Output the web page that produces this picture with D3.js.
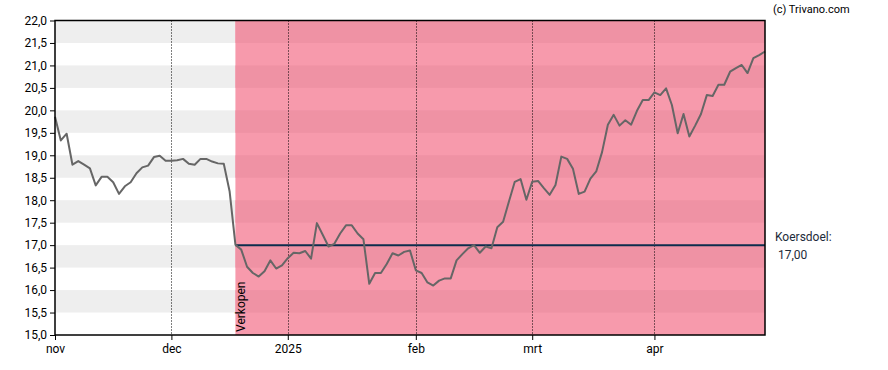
<!DOCTYPE html>
<html>
<head>
<meta charset="utf-8">
<script src="https://cdn.jsdelivr.net/npm/d3@7"></script>
<style>
  body { margin: 0; background: #fff; }
  svg { font-family: Roboto, "Noto Sans", sans-serif; }
</style>
</head>
<body>
<svg id="chart"></svg>
<script>
// Koers per handelsdag (index 0 = begin nov)
const prices = [
  19.86, 19.33, 19.48, 18.79, 18.87, 18.79, 18.71, 18.33, 18.52, 18.52,
  18.40, 18.14, 18.31, 18.40, 18.60, 18.73, 18.77, 18.96, 18.99, 18.88,
  18.88, 18.89, 18.92, 18.81, 18.79, 18.92, 18.92, 18.86, 18.82, 18.81,
  18.20, 17.01, 16.90, 16.52, 16.38, 16.30, 16.42, 16.66, 16.48, 16.55,
  16.71, 16.83, 16.82, 16.87, 16.70, 17.49, 17.23, 16.97, 17.03, 17.26,
  17.44, 17.44, 17.26, 17.13, 16.14, 16.38, 16.38, 16.58, 16.82, 16.77,
  16.85, 16.88, 16.44, 16.38, 16.17, 16.10, 16.21, 16.26, 16.26, 16.66,
  16.80, 16.93, 17.00, 16.83, 16.97, 16.93, 17.40, 17.52, 17.97, 18.41,
  18.47, 18.01, 18.41, 18.43, 18.27, 18.12, 18.34, 18.97, 18.92, 18.70,
  18.14, 18.19, 18.48, 18.64, 19.07, 19.68, 19.90, 19.66, 19.78, 19.68,
  19.99, 20.23, 20.23, 20.40, 20.34, 20.49, 20.12, 19.49, 19.92, 19.42,
  19.66, 19.92, 20.34, 20.32, 20.57, 20.57, 20.86, 20.94, 21.01, 20.83,
  21.16, 21.23, 21.31
];

// Maandlabels op handelsdag-index
const monthLabels = ["nov", "dec", "2025", "feb", "mrt", "apr"];
const monthIndex = [0, 20, 40, 62, 82, 103];

const yTicks = [15, 15.5, 16, 16.5, 17, 17.5, 18, 18.5, 19, 19.5, 20, 20.5, 21, 21.5, 22];

const adviceIndex = 31;      // "Verkopen" vanaf hier
const adviceLabel = "Verkopen";
const targetPrice = 17.00;

const width = 888, height = 370;
const margin = { top: 20.5, right: 123, bottom: 35, left: 55 };
const innerW = width - margin.left - margin.right;
const innerH = height - margin.top - margin.bottom;

const svg = d3.select("#chart").attr("width", width).attr("height", height);
const g = svg.append("g").attr("transform", `translate(${margin.left},${margin.top})`);

const x = d3.scaleLinear().domain([0, prices.length - 1]).range([0, innerW]);
const y = d3.scaleLinear().domain([15, 22]).range([innerH, 0]);

const fmt = v => d3.format(".1f")(v).replace(".", ",");

// Horizontal stripes: grey in the white area, darker pink in the advice area
const bands = d3.range(15.5, 22, 1);
const xAdvice = x(adviceIndex);

g.selectAll("rect.band")
  .data(bands)
  .enter().append("rect")
  .attr("class", "band")
  .attr("x", 0)
  .attr("y", d => y(d + 0.5))
  .attr("width", xAdvice)
  .attr("height", d => y(d) - y(d + 0.5))
  .attr("fill", "#eeeeee");

g.append("rect")
  .attr("x", xAdvice)
  .attr("y", 0)
  .attr("width", innerW - xAdvice)
  .attr("height", innerH)
  .attr("fill", "rgb(247,154,172)");

g.selectAll("rect.pband")
  .data(bands)
  .enter().append("rect")
  .attr("class", "pband")
  .attr("x", xAdvice)
  .attr("y", d => y(d + 0.5))
  .attr("width", innerW - xAdvice)
  .attr("height", d => y(d) - y(d + 0.5))
  .attr("fill", "rgb(239,146,164)");

// Dotted month gridlines
g.selectAll("line.vgrid")
  .data(monthIndex.slice(1))
  .enter().append("line")
  .attr("class", "vgrid")
  .attr("x1", d => Math.round(x(d)) + 0.5)
  .attr("x2", d => Math.round(x(d)) + 0.5)
  .attr("y1", 0)
  .attr("y2", innerH)
  .attr("stroke", "#000")
  .attr("stroke-dasharray", "1,2");

// Target line
g.append("line")
  .attr("x1", xAdvice)
  .attr("x2", innerW)
  .attr("y1", y(targetPrice))
  .attr("y2", y(targetPrice))
  .attr("stroke", "#0d2d4d")
  .attr("stroke-width", 2);

// Price line
const line = d3.line()
  .x((d, i) => x(i))
  .y(d => y(d));

g.append("path")
  .datum(prices)
  .attr("fill", "none")
  .attr("stroke", "#666")
  .attr("stroke-width", 2)
  .attr("stroke-linejoin", "round")
  .attr("d", line);

// Advice label
g.append("text")
  .attr("transform", `translate(${xAdvice + 10},${innerH - 3}) rotate(-90)`)
  .attr("font-size", 12)
  .attr("fill", "#000")
  .text(adviceLabel);

// Frame
g.append("rect")
  .attr("x", 0)
  .attr("y", 0)
  .attr("width", innerW)
  .attr("height", innerH)
  .attr("fill", "none")
  .attr("stroke", "#000")
  .attr("stroke-width", 1.5);

// Axes
const yAxis = d3.axisLeft(y).tickValues(yTicks).tickFormat(fmt).tickSize(5).tickPadding(3);
g.append("g").call(yAxis)
  .call(a => a.select(".domain").remove())
  .call(a => a.selectAll("text").attr("font-size", 12).attr("font-family", "Roboto").attr("fill", "#000"));

const xAxis = d3.axisBottom(x).tickValues(monthIndex)
  .tickFormat((d, i) => monthLabels[i]).tickSize(5).tickPadding(4);
g.append("g").attr("transform", `translate(0,${innerH})`).call(xAxis)
  .call(a => a.select(".domain").remove())
  .call(a => a.selectAll("text").attr("font-size", 12).attr("font-family", "Roboto").attr("fill", "#000"));

// Right side labels
svg.append("text")
  .attr("x", 775).attr("y", 241)
  .attr("font-size", 12).attr("fill", "#1d2b3a")
  .text("Koersdoel:");
svg.append("text")
  .attr("x", 778).attr("y", 259)
  .attr("font-size", 12).attr("fill", "#1d2b3a")
  .text(d3.format(".2f")(targetPrice).replace(".", ","));

svg.append("text")
  .attr("x", 773).attr("y", 13)
  .attr("font-size", 11).attr("fill", "#000")
  .text("(c) Trivano.com");
</script>
</body>
</html>
